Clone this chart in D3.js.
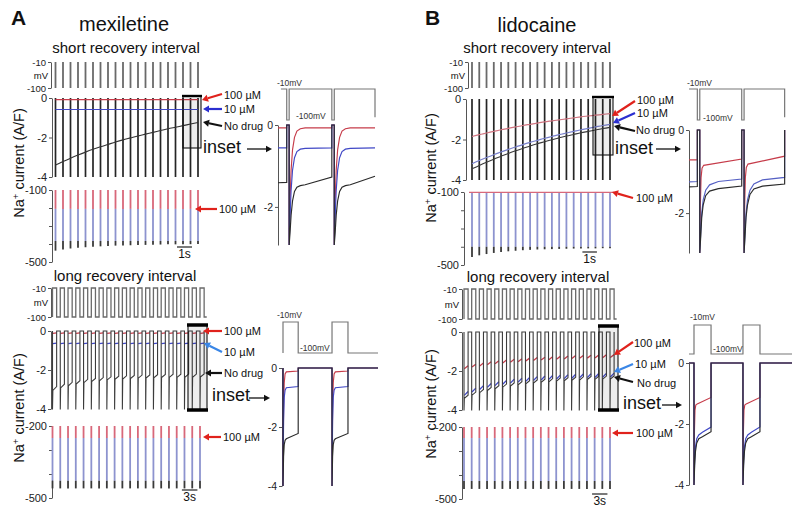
<!DOCTYPE html>
<html>
<head>
<meta charset="utf-8">
<script src="https://cdn.jsdelivr.net/npm/d3@7/dist/d3.min.js"></script>
<style>
html,body{margin:0;padding:0;background:#fff;}
svg text{font-family:"Liberation Sans",Arial,Helvetica,sans-serif;}
</style>
</head>
<body>
<svg id="fig" width="800" height="513" viewBox="0 0 800 513"></svg>
<script>
// ================= DATA =================
const pulseTimesShort = [0,0.5,1,1.5,2,2.5,3,3.5,4,4.5,5,5.5,6,6.5,7,7.5,8,8.5,9,9.5];
const pulseTimesLong  = [0,1.5,3,4.5,6,7.5,9,10.5,12,13.5,15,16.5,18,19.5,21,22.5,24,25.5,27,28.5];
const longPulseWidth = 0.8;

const voltTicks = [-10,-100];
const currentTicks = [0,-2,-4];
const peakTicksShort = [-100,-200,-300,-400,-500];
const peakLabelsShort = [-100,-500];
const peakTicksLong = [-200,-300,-400,-500];
const peakLabelsLong = [-200,-500];
const insetTicksShort = [0,-2];
const insetTicksLong = [0,-2,-4];
const seriesLabels = ["100 µM","10 µM","No drug"];

// mexiletine, short recovery interval (A/F)
const mexShort100    = [-0.08,-0.08,-0.08,-0.08,-0.08,-0.08,-0.08,-0.08,-0.08,-0.08,-0.08,-0.08,-0.08,-0.08,-0.08,-0.08,-0.08,-0.08,-0.08,-0.08];
const mexShort10     = [-0.58,-0.58,-0.58,-0.58,-0.58,-0.58,-0.58,-0.58,-0.58,-0.58,-0.58,-0.58,-0.58,-0.58,-0.58,-0.58,-0.58,-0.58,-0.58,-0.58];
const mexShortNoDrug = [-3.40,-3.22,-3.05,-2.89,-2.74,-2.60,-2.47,-2.35,-2.23,-2.12,-2.02,-1.92,-1.83,-1.74,-1.65,-1.56,-1.48,-1.40,-1.32,-1.24];
const mexShortPeak100    = [-205,-205,-205,-205,-205,-205,-205,-205,-205,-205,-205,-205,-205,-205,-205,-205,-205,-205,-205,-205];
const mexShortPeak10     = [-383,-383,-383,-383,-383,-383,-383,-383,-383,-383,-383,-383,-383,-383,-383,-383,-383,-383,-383,-383];
const mexShortPeakNoDrug = [-437,-430,-425,-421,-418,-415,-413,-411,-409,-408,-407,-406,-405,-404,-403,-402,-402,-401,-401,-400];

// mexiletine, long recovery interval (start / end of each pulse)
const mexLong100Start    = [-0.12,-0.12,-0.12,-0.12,-0.12,-0.12,-0.12,-0.12,-0.12,-0.12,-0.12,-0.12,-0.12,-0.12,-0.12,-0.12,-0.12,-0.12,-0.12,-0.12];
const mexLong100End      = [-0.10,-0.10,-0.10,-0.10,-0.10,-0.10,-0.10,-0.10,-0.10,-0.10,-0.10,-0.10,-0.10,-0.10,-0.10,-0.10,-0.10,-0.10,-0.10,-0.10];
const mexLong10Start     = [-0.65,-0.65,-0.65,-0.65,-0.65,-0.65,-0.65,-0.65,-0.65,-0.65,-0.65,-0.65,-0.65,-0.65,-0.65,-0.65,-0.65,-0.65,-0.65,-0.65];
const mexLong10End       = [-0.62,-0.62,-0.62,-0.62,-0.62,-0.62,-0.62,-0.62,-0.62,-0.62,-0.62,-0.62,-0.62,-0.62,-0.62,-0.62,-0.62,-0.62,-0.62,-0.62];
const mexLongNoDrugStart = [-3.05,-2.92,-2.81,-2.72,-2.65,-2.59,-2.55,-2.51,-2.48,-2.46,-2.44,-2.42,-2.41,-2.40,-2.39,-2.38,-2.38,-2.37,-2.37,-2.36];
const mexLongNoDrugEnd   = [-2.85,-2.73,-2.63,-2.55,-2.48,-2.43,-2.39,-2.35,-2.32,-2.30,-2.28,-2.26,-2.25,-2.24,-2.23,-2.22,-2.22,-2.21,-2.21,-2.20];
const mexLongPeak100    = [-250,-250,-250,-250,-250,-250,-250,-250,-250,-250,-250,-250,-250,-250,-250,-250,-250,-250,-250,-250];
const mexLongPeak10     = [-428,-428,-428,-428,-428,-428,-428,-428,-428,-428,-428,-428,-428,-428,-428,-428,-428,-428,-428,-428];
const mexLongPeakNoDrug = [-460,-460,-460,-460,-460,-460,-460,-460,-460,-460,-460,-460,-460,-460,-460,-460,-460,-460,-460,-460];

// lidocaine, short recovery interval
const lidShort100    = [-1.85,-1.76,-1.68,-1.60,-1.52,-1.45,-1.38,-1.31,-1.25,-1.19,-1.13,-1.08,-1.03,-0.98,-0.93,-0.88,-0.84,-0.80,-0.76,-0.72];
const lidShort10     = [-3.20,-3.04,-2.89,-2.75,-2.62,-2.49,-2.37,-2.25,-2.14,-2.04,-1.94,-1.85,-1.76,-1.68,-1.60,-1.52,-1.45,-1.38,-1.31,-1.25];
const lidShortNoDrug = [-3.45,-3.28,-3.12,-2.97,-2.83,-2.69,-2.56,-2.44,-2.32,-2.21,-2.11,-2.01,-1.92,-1.83,-1.75,-1.67,-1.60,-1.53,-1.46,-1.40];
const lidShortPeak100    = [-102,-102,-102,-102,-102,-102,-102,-102,-102,-102,-102,-102,-102,-102,-102,-102,-102,-102,-102,-102];
const lidShortPeak10     = [-400,-400,-400,-400,-400,-400,-400,-400,-400,-400,-400,-400,-400,-400,-400,-400,-400,-400,-400,-400];
const lidShortPeakNoDrug = [-456,-447,-440,-434,-429,-425,-422,-419,-417,-415,-414,-413,-412,-411,-410,-410,-409,-409,-408,-408];

// lidocaine, long recovery interval
const lidLong100Start    = [-1.88,-1.80,-1.74,-1.68,-1.63,-1.59,-1.55,-1.52,-1.49,-1.46,-1.44,-1.42,-1.40,-1.38,-1.36,-1.35,-1.34,-1.33,-1.32,-1.31];
const lidLong100End      = [-1.73,-1.65,-1.59,-1.53,-1.48,-1.44,-1.40,-1.37,-1.34,-1.31,-1.29,-1.27,-1.25,-1.23,-1.21,-1.20,-1.19,-1.18,-1.17,-1.16];
const lidLong10Start     = [-3.25,-3.08,-2.95,-2.84,-2.75,-2.68,-2.62,-2.57,-2.53,-2.49,-2.46,-2.43,-2.41,-2.39,-2.37,-2.35,-2.34,-2.33,-2.32,-2.31];
const lidLong10End       = [-3.05,-2.88,-2.75,-2.64,-2.55,-2.48,-2.42,-2.37,-2.33,-2.29,-2.26,-2.23,-2.21,-2.19,-2.17,-2.15,-2.14,-2.13,-2.12,-2.11];
const lidLongNoDrugStart = [-3.40,-3.24,-3.11,-3.00,-2.91,-2.83,-2.77,-2.71,-2.66,-2.62,-2.58,-2.55,-2.52,-2.50,-2.48,-2.46,-2.44,-2.43,-2.42,-2.41];
const lidLongNoDrugEnd   = [-3.24,-3.08,-2.95,-2.84,-2.75,-2.67,-2.61,-2.55,-2.50,-2.46,-2.42,-2.39,-2.36,-2.34,-2.32,-2.30,-2.28,-2.27,-2.26,-2.25];
const lidLongPeak100    = [-246,-246,-246,-246,-246,-246,-246,-246,-246,-246,-246,-246,-246,-246,-246,-246,-246,-246,-246,-246];
const lidLongPeak10     = [-425,-425,-425,-425,-425,-425,-425,-425,-425,-425,-425,-425,-425,-425,-425,-425,-425,-425,-425,-425];
const lidLongPeakNoDrug = [-458,-458,-458,-458,-458,-458,-458,-458,-458,-458,-458,-458,-458,-458,-458,-458,-458,-458,-458,-458];

// insets: [time (a.u.), value]
const insetMexShortV = [[3,-10],[9,-10],[9,-100],[11.5,-100],[11.5,-10],[55.5,-10],[55.5,-100],[58,-100],[58,-10],[100,-10],[100,-92]];
const insetMexShort100 = [[0,-0.07],[9,-0.07],[9,0],[11.5,0],[11.5,-3],[12.5,-1.8],[13.5,-1.1],[15,-0.6],[17,-0.3],[19.5,-0.15],[23,-0.09],[28,-0.07],[55.5,-0.07],[55.5,0],[58,0],[58,-3],[59,-1.8],[60,-1.1],[61.5,-0.6],[63.5,-0.3],[66,-0.15],[69.5,-0.09],[74.5,-0.07],[100,-0.07]];
const insetMexShort10 = [[0,-0.56],[9,-0.56],[9,0],[11.5,0],[11.5,-3],[12.5,-2.2],[13.5,-1.6],[15,-1.1],[17,-0.8],[19.5,-0.65],[23,-0.59],[28,-0.57],[55.5,-0.56],[55.5,0],[58,0],[58,-3],[59,-2.2],[60,-1.6],[61.5,-1.1],[63.5,-0.8],[66,-0.65],[69.5,-0.59],[74.5,-0.57],[100,-0.56]];
const insetMexShortNoDrug = [[0,-1.41],[9,-1.40],[9,0],[11.5,0],[11.5,-3],[12.5,-2.6],[13.5,-2.2],[15,-1.85],[17,-1.62],[19.5,-1.52],[23,-1.48],[28,-1.46],[55.5,-1.27],[55.5,0],[58,0],[58,-3],[59,-2.6],[60,-2.2],[61.5,-1.85],[63.5,-1.62],[66,-1.52],[69.5,-1.48],[74.5,-1.46],[100,-1.25]];

const insetLidShortV = [[0,-10],[8.5,-10],[8.5,-100],[11,-100],[11,-10],[53.8,-10],[53.8,-100],[56.2,-100],[56.2,-10],[97.6,-10],[97.6,-92]];
const insetLidShort100 = [[0,-0.72],[8.5,-0.72],[8.5,0],[11,0],[11,-3],[11.6,-1.8],[12.3,-1.15],[13.3,-0.92],[15,-0.85],[53.8,-0.70],[53.8,0],[56.2,0],[56.2,-3],[56.8,-1.8],[57.5,-1.15],[58.5,-0.9],[60.2,-0.82],[97.6,-0.63],[97.6,0]];
const insetLidShort10 = [[0,-1.25],[8.5,-1.24],[8.5,0],[11,0],[11,-3],[12,-2.45],[13,-2.0],[14.5,-1.68],[17,-1.45],[21,-1.32],[30,-1.24],[53.8,-1.18],[53.8,0],[56.2,0],[56.2,-3],[57.2,-2.45],[58.2,-2.0],[59.7,-1.68],[62.2,-1.45],[66.2,-1.3],[75,-1.2],[97.6,-1.14],[97.6,0]];
const insetLidShortNoDrug = [[0,-1.37],[8.5,-1.36],[8.5,0],[11,0],[11,-3],[12,-2.55],[13,-2.1],[14.5,-1.8],[17,-1.58],[21,-1.47],[30,-1.41],[53.8,-1.35],[53.8,0],[56.2,0],[56.2,-3],[57.2,-2.55],[58.2,-2.1],[59.7,-1.8],[62.2,-1.55],[66.2,-1.42],[75,-1.35],[97.6,-1.3],[97.6,0]];

const insetMexLongV = [[0,-100],[0,-10],[16,-10],[16,-100],[51.6,-100],[51.6,-10],[68.4,-10],[68.4,-100],[100,-100]];
const insetMexLong100 = [[0,0],[0,-4],[0.6,-1.4],[1.3,-0.5],[2.2,-0.2],[3.5,-0.13],[16,-0.1],[16,0],[51.6,0],[51.6,-4],[52.2,-1.4],[52.9,-0.5],[53.8,-0.2],[55.1,-0.13],[68.4,-0.1],[68.4,0],[100,0]];
const insetMexLong10 = [[0,0],[0,-4],[0.6,-1.8],[1.3,-1.0],[2.2,-0.75],[3.5,-0.67],[16,-0.63],[16,0],[51.6,0],[51.6,-4],[52.2,-1.8],[52.9,-1.0],[53.8,-0.75],[55.1,-0.67],[68.4,-0.63],[68.4,0],[100,0]];
const insetMexLongNoDrug = [[0,0],[0,-4],[0.6,-3.0],[1.3,-2.6],[2.2,-2.45],[3.5,-2.4],[16,-2.22],[16,0],[51.6,0],[51.6,-4],[52.2,-3.0],[52.9,-2.6],[53.8,-2.45],[55.1,-2.4],[68.4,-2.22],[68.4,0],[100,0]];

const insetLidLongV = [[0,-100],[4.85,-100],[4.85,-10],[21.4,-10],[21.4,-100],[52.4,-100],[52.4,-10],[68.9,-10],[68.9,-100],[100,-100]];
const insetLidLong100 = [[0,0],[4.85,0],[4.85,-4],[5.3,-2.2],[5.8,-1.55],[6.6,-1.38],[8,-1.34],[21.4,-1.13],[21.4,0],[52.4,0],[52.4,-4],[52.85,-2.2],[53.35,-1.55],[54.15,-1.38],[55.55,-1.34],[68.9,-1.13],[68.9,0],[100,0]];
const insetLidLong10 = [[0,0],[4.85,0],[4.85,-4],[5.5,-3.2],[6.3,-2.75],[7.5,-2.48],[9.5,-2.36],[13,-2.27],[21.4,-2.1],[21.4,0],[52.4,0],[52.4,-4],[53.05,-3.2],[53.85,-2.75],[55.05,-2.48],[57.05,-2.36],[60.55,-2.27],[68.9,-2.1],[68.9,0],[100,0]];
const insetLidLongNoDrug = [[0,0],[4.85,0],[4.85,-4],[5.5,-3.35],[6.3,-2.9],[7.5,-2.62],[9.5,-2.48],[13,-2.42],[21.4,-2.25],[21.4,0],[52.4,0],[52.4,-4],[53.05,-3.35],[53.85,-2.9],[55.05,-2.62],[57.05,-2.48],[60.55,-2.42],[68.9,-2.25],[68.9,0],[100,0]];

// ================= DRAWING =================
const svg = d3.select("#fig");
const COL = {
  red:"#c63c4a", blue:"#4048c6", black:"#252525", volt:"#6a6a6a", axis:"#555",
  redP:"#d8687a", blueP:"#8d93cf", blackP:"#3a3a3a",
  arrRed:"#e0221c", arrBlue:"#2b2fd0", arrBlue2:"#3a86e6", arrBlack:"#111"
};

function text(g,x,y,s,size,o={}){
  const t=g.append("text").attr("x",x).attr("y",y).attr("font-size",size).attr("fill",o.fill||"#111").text(s);
  if(o.anchor) t.attr("text-anchor",o.anchor);
  if(o.weight) t.attr("font-weight",o.weight);
  return t;
}
function axisL(g,scale,x,ticks,labelled,size){
  const ax=d3.axisLeft(scale).tickValues(ticks).tickSize(3).tickSizeOuter(0).tickPadding(2)
    .tickFormat(d=>labelled.includes(d)?String(d):"");
  const a=g.append("g").attr("transform",`translate(${x},0)`).call(ax);
  a.select("path.domain").attr("stroke",COL.axis).attr("stroke-width",1);
  a.selectAll(".tick line").attr("stroke",COL.axis);
  a.selectAll(".tick text").attr("font-size",size||11).attr("fill","#222");
  return a;
}
function arrow(g,x1,y1,x2,y2,color,w,hl,hw){
  w=w||2.2; hl=hl||6; hw=hw||3.6;
  const a=Math.atan2(y2-y1,x2-x1);
  const bx=x2-hl*Math.cos(a), by=y2-hl*Math.sin(a);
  g.append("line").attr("x1",x1).attr("y1",y1).attr("x2",bx).attr("y2",by).attr("stroke",color).attr("stroke-width",w);
  const px=-Math.sin(a)*hw, py=Math.cos(a)*hw;
  g.append("path").attr("d",`M${x2},${y2}L${bx+px},${by+py}L${bx-px},${by-py}Z`).attr("fill",color);
}
function peakBars(g,x,yp,times,top,r,b,k,w){
  const grp=g.append("g").attr("stroke-width",w||1.8);
  grp.selectAll(".pr").data(times).join("line").attr("x1",d=>x(d)).attr("x2",d=>x(d))
    .attr("y1",yp(top)).attr("y2",(d,i)=>yp(r[i])).attr("stroke",COL.redP);
  grp.selectAll(".pb").data(times).join("line").attr("x1",d=>x(d)).attr("x2",d=>x(d))
    .attr("y1",(d,i)=>yp(r[i])).attr("y2",(d,i)=>yp(b[i])).attr("stroke",COL.blueP);
  grp.selectAll(".pk").data(times).join("line").attr("x1",d=>x(d)).attr("x2",d=>x(d))
    .attr("y1",(d,i)=>yp(b[i])).attr("y2",(d,i)=>yp(k[i])).attr("stroke",COL.blackP);
}

function shortBlock(c){
  const g=svg.append("g");
  const T=pulseTimesShort;
  const x=d3.scaleLinear().domain([T[0],T[T.length-1]]).range([c.x0,c.x1]);
  const yv=d3.scaleLinear().domain([-10,-100]).range([c.v10,c.v100]);
  axisL(g,yv,c.axV,voltTicks,voltTicks,9.5);
  text(g,c.axV-3,(c.v10+c.v100)/2+3.5,"mV",9.5,{anchor:"end"});
  g.append("g").selectAll("line").data(T).join("line")
    .attr("x1",d=>x(d)).attr("x2",d=>x(d)).attr("y1",yv(-10)).attr("y2",yv(-100))
    .attr("stroke",COL.volt).attr("stroke-width",1.8);
  const yc=d3.scaleLinear().domain([0,-4]).range([c.c0,c.c4]);
  axisL(g,yc,c.axC,currentTicks,currentTicks,11);
  g.append("g").selectAll("line").data(T).join("line")
    .attr("x1",d=>x(d)).attr("x2",d=>x(d)).attr("y1",yc(0)).attr("y2",yc(-4))
    .attr("stroke",COL.black).attr("stroke-width",1.7);
  const ln=d3.line().x((d,i)=>x(T[i])).y(d=>yc(d)).curve(d3.curveMonotoneX);
  c.lines.forEach(s=>{
    g.append("path").attr("d",ln(s.v)).attr("fill","none").attr("stroke",s.c).attr("stroke-width",s.w||1.1);
  });
  const yp=d3.scaleLinear().domain([-100,-500]).range([c.p1,c.p5]);
  axisL(g,yp,c.axP,peakTicksShort,peakLabelsShort,11);
  peakBars(g,x,yp,T,-100,c.peaks[0],c.peaks[1],c.peaks[2]);
  if(c.redLine){
    g.append("line").attr("x1",x(T[0])-3).attr("x2",x(T[T.length-1])+4)
      .attr("y1",yp(c.peaks[0][0])).attr("y2",yp(c.peaks[0][0])).attr("stroke",COL.redP).attr("stroke-width",1.3);
  }
  g.append("line").attr("x1",x(c.barT)).attr("x2",x(c.barT+1)).attr("y1",c.barY).attr("y2",c.barY).attr("stroke","#222").attr("stroke-width",1.2);
  text(g,(x(c.barT)+x(c.barT+1))/2,c.barY+11,"1s",12,{anchor:"middle"});
  return g;
}

function longBlock(c){
  const g=svg.append("g");
  const T=pulseTimesLong, W=longPulseWidth;
  const x=d3.scaleLinear().domain([T[0],T[T.length-1]]).range([c.x0,c.x1]);
  const yv=d3.scaleLinear().domain([-10,-100]).range([c.v10,c.v100]);
  axisL(g,yv,c.axV,voltTicks,voltTicks,9.5);
  text(g,c.axV-3,(c.v10+c.v100)/2+3.5,"mV",9.5,{anchor:"end"});
  const vp=[];
  T.forEach(t=>{vp.push([t,-100],[t,-10],[t+W,-10],[t+W,-100]);});
  vp.push([T[T.length-1]+W+0.5,-100]);
  g.append("path").attr("d",d3.line().x(d=>x(d[0])).y(d=>yv(d[1]))(vp))
    .attr("fill","none").attr("stroke",COL.volt).attr("stroke-width",1.3);
  const yc=d3.scaleLinear().domain([0,-4]).range([c.c0,c.c4]);
  axisL(g,yc,c.axC,currentTicks,currentTicks,11);
  const lnT=d3.line().x(d=>x(d[0])).y(d=>yc(d[1]));
  c.seg.forEach(s=>{
    T.forEach((t,i)=>{
      g.append("path").attr("d",lnT([[t+0.06,s.a[i]],[t+W,s.b[i]]])).attr("fill","none")
        .attr("stroke",s.c).attr("stroke-width",1.3);
    });
  });
  const kp=[];
  T.forEach((t,i)=>{kp.push([t,0],[t,-4.02],[t+0.07,c.k.a[i]],[t+W,c.k.b[i]],[t+W,0]);});
  g.append("path").attr("d",lnT(kp)).attr("fill","none").attr("stroke","#3c3c3c").attr("stroke-width",1.1);
  const yp=d3.scaleLinear().domain([-200,-500]).range([c.p2,c.p5]);
  axisL(g,yp,c.axP,peakTicksLong,peakLabelsLong,11);
  peakBars(g,x,yp,T,-200,c.peaks[0],c.peaks[1],c.peaks[2]);
  g.append("line").attr("x1",x(c.barT)).attr("x2",x(c.barT+3)).attr("y1",c.barY).attr("y2",c.barY).attr("stroke","#222").attr("stroke-width",1.2);
  text(g,(x(c.barT)+x(c.barT+3))/2,c.barY+11,"3s",12,{anchor:"middle"});
  return g;
}

function inset(c){
  const g=svg.append("g");
  const x=d3.scaleLinear().domain([0,100]).range([c.xa,c.xb]);
  const yv=d3.scaleLinear().domain([-10,-100]).range([c.v10,c.v100]);
  g.append("path").attr("d",d3.line().x(d=>x(d[0])).y(d=>yv(d[1]))(c.V))
    .attr("fill","none").attr("stroke","#777").attr("stroke-width",1.2);
  text(g,c.l10[0],c.l10[1],"-10mV",8.5,{fill:"#333"});
  text(g,c.l100[0],c.l100[1],"-100mV",8.5,{fill:"#333"});
  const yc=d3.scaleLinear().domain([0,c.cBotVal]).range([c.c0,c.cBot]).clamp(true);
  axisL(g,yc,c.ax,c.ticks,c.ticks,10.5);
  const ln=d3.line().x(d=>x(d[0])).y(d=>yc(d[1]));
  c.traces.forEach(s=>{
    g.append("path").attr("d",ln(s.v)).attr("fill","none").attr("stroke",s.c).attr("stroke-width",1.15);
  });
}

function boxMark(x,y,w,h,thickBottom){
  const g=svg.append("g");
  g.append("rect").attr("x",x).attr("y",y).attr("width",w).attr("height",h)
    .attr("fill","rgba(0,0,0,0.07)").attr("stroke","#111").attr("stroke-width",1.1);
  g.append("line").attr("x1",x-1).attr("x2",x+w+1).attr("y1",y).attr("y2",y).attr("stroke","#000").attr("stroke-width",thickBottom?3.5:2.4);
  if(thickBottom) g.append("line").attr("x1",x-1).attr("x2",x+w+1).attr("y1",y+h).attr("y2",y+h).attr("stroke","#000").attr("stroke-width",3.5);
}
function labels(L){
  const g=svg.append("g");
  L.forEach(l=>{
    arrow(g,l.a[0],l.a[1],l.a[2],l.a[3],l.c,l.w);
    text(g,l.t[0],l.t[1],l.s,l.size||11);
  });
}
function insetArrow(tx,ty,ax1,ax2,ay){
  const g=svg.append("g");
  text(g,tx,ty,"inset",18);
  arrow(g,ax1,ay,ax2,ay,"#111",1.3,6,3.2);
}
function ylab(x,y){
  const t=svg.append("text").attr("transform",`translate(${x},${y}) rotate(-90)`).attr("text-anchor","middle").attr("font-size",14.5).attr("fill","#111");
  t.append("tspan").text("Na");
  t.append("tspan").attr("dy",-5).attr("font-size",9.5).text("+");
  t.append("tspan").attr("dy",5).text(" current (A/F)");
}

// ---------- headers ----------
const hg=svg.append("g");
text(hg,11,25,"A",21,{weight:"bold"});
text(hg,425,25,"B",21,{weight:"bold"});
text(hg,124,31,"mexiletine",20,{anchor:"middle"});
text(hg,537,32,"lidocaine",20,{anchor:"middle"});
text(hg,126,53,"short recovery interval",15,{anchor:"middle"});
text(hg,537,53,"short recovery interval",15,{anchor:"middle"});
text(hg,125,281,"long recovery interval",15,{anchor:"middle"});
text(hg,538,282,"long recovery interval",15,{anchor:"middle"});
ylab(24,163); ylab(24,408); ylab(436,168); ylab(436,404);

// ---------- A: mexiletine short ----------
shortBlock({x0:55.5,x1:198,axV:51,axC:52,axP:52,v10:62,v100:88,c0:98,c4:177,p1:190,p5:262,
  lines:[{v:mexShortNoDrug,c:"#333",w:1.1},{v:mexShort10,c:COL.blue},{v:mexShort100,c:COL.red}],
  peaks:[mexShortPeak100,mexShortPeak10,mexShortPeakNoDrug],barT:8.1,barY:247});
boxMark(183,96,18,52,false);
labels([
  {a:[222,94,202,100],c:COL.arrRed,t:[224,99],s:seriesLabels[0]},
  {a:[222,109,203,109],c:COL.arrBlue,t:[224,113],s:seriesLabels[1]},
  {a:[222,126,203,122],c:COL.arrBlack,t:[224,130],s:seriesLabels[2]},
  {a:[217,209,195,209],c:COL.arrRed,t:[219,213],s:seriesLabels[0]}
]);
insetArrow(203,153,247,272,149);
inset({xa:278,xb:375,v10:89,v100:120,c0:125,cBot:245,cBotVal:-2.93,ax:278,ticks:insetTicksShort,
  V:insetMexShortV,l10:[277,86],l100:[296,119],
  traces:[{v:insetMexShort100,c:COL.red},{v:insetMexShort10,c:COL.blue},{v:insetMexShortNoDrug,c:"#2a2a2a"}]});

// ---------- A: mexiletine long ----------
longBlock({x0:52.5,x1:200,axV:51,axC:51,axP:52,v10:288,v100:317,c0:331,c4:409,p2:426,p5:498,
  seg:[{a:mexLong10Start,b:mexLong10End,c:COL.blue},{a:mexLong100Start,b:mexLong100End,c:COL.red}],
  k:{a:mexLongNoDrugStart,b:mexLongNoDrugEnd},
  peaks:[mexLongPeak100,mexLongPeak10,mexLongPeakNoDrug],barT:25,barY:490});
boxMark(188,325,19,85,true);
labels([
  {a:[222,331,203,331],c:COL.arrRed,t:[224,335],s:seriesLabels[0]},
  {a:[222,352,204,343],c:COL.arrBlue2,t:[224,356],s:seriesLabels[1]},
  {a:[222,373,205,373],c:COL.arrBlack,t:[224,377],s:seriesLabels[2]},
  {a:[221,437,203,437],c:COL.arrRed,t:[223,441],s:seriesLabels[0]}
]);
insetArrow(212,401,249,270,398);
inset({xa:283,xb:378,v10:322,v100:353,c0:368,cBot:486,cBotVal:-4,ax:282,ticks:insetTicksLong,
  V:insetMexLongV,l10:[277,318],l100:[300,351],
  traces:[{v:insetMexLong100,c:COL.red},{v:insetMexLong10,c:COL.blue},{v:insetMexLongNoDrug,c:"#2a2a2a"}]});

// ---------- B: lidocaine short ----------
shortBlock({x0:472,x1:610,axV:468,axC:466,axP:464,v10:62,v100:88,c0:99,c4:180,p1:192,p5:265,
  lines:[{v:lidShortNoDrug,c:"#3a3a3a",w:1.1},{v:lidShort10,c:"#7880cc",w:1.2},{v:lidShort100,c:"#d07480",w:1.2}],
  peaks:[lidShortPeak100,lidShortPeak10,lidShortPeakNoDrug],redLine:true,barT:7.6,barY:252});
boxMark(593,97,20,58,false);
labels([
  {a:[635,101,612,116],c:COL.arrRed,t:[637,104],s:seriesLabels[0]},
  {a:[635,113,613,123],c:COL.arrBlue,t:[637,117],s:seriesLabels[1]},
  {a:[635,131,614,126],c:COL.arrBlack,t:[636,134],s:seriesLabels[2]},
  {a:[633,198,612,192],c:COL.arrRed,t:[636,202],s:seriesLabels[0]}
]);
insetArrow(615,154,656,681,149);
inset({xa:689,xb:787,v10:89,v100:120,c0:130,cBot:253,cBotVal:-2.96,ax:689,ticks:insetTicksShort,
  V:insetLidShortV,l10:[687,86],l100:[703,121],
  traces:[{v:insetLidShort100,c:COL.red},{v:insetLidShort10,c:"#5560c4"},{v:insetLidShortNoDrug,c:"#2a2a2a"}]});

// ---------- B: lidocaine long ----------
longBlock({x0:464,x1:610,axV:462,axC:462,axP:462,v10:289,v100:319,c0:332,c4:410,p2:427,p5:499,
  seg:[{a:lidLong10Start,b:lidLong10End,c:COL.blue},{a:lidLong100Start,b:lidLong100End,c:COL.red}],
  k:{a:lidLongNoDrugStart,b:lidLongNoDrugEnd},
  peaks:[lidLongPeak100,lidLongPeak10,lidLongPeakNoDrug],barT:25,barY:494});
boxMark(599,326,19,84,true);
labels([
  {a:[633,342,614,355],c:COL.arrRed,t:[634,347],s:seriesLabels[0]},
  {a:[633,364,614,372],c:COL.arrBlue2,t:[635,368],s:seriesLabels[1]},
  {a:[633,382,614,377],c:COL.arrBlack,t:[637,387],s:seriesLabels[2]},
  {a:[633,433,612,433],c:COL.arrRed,t:[636,437],s:seriesLabels[0]}
]);
insetArrow(623,409,662,682,405);
inset({xa:689,xb:792,v10:325,v100:354,c0:363,cBot:485,cBotVal:-4,ax:689,ticks:insetTicksLong,
  V:insetLidLongV,l10:[690,320],l100:[713,352],
  traces:[{v:insetLidLong100,c:COL.red},{v:insetLidLong10,c:COL.blue},{v:insetLidLongNoDrug,c:"#2a2a2a"}]});
</script>
</body>
</html>
